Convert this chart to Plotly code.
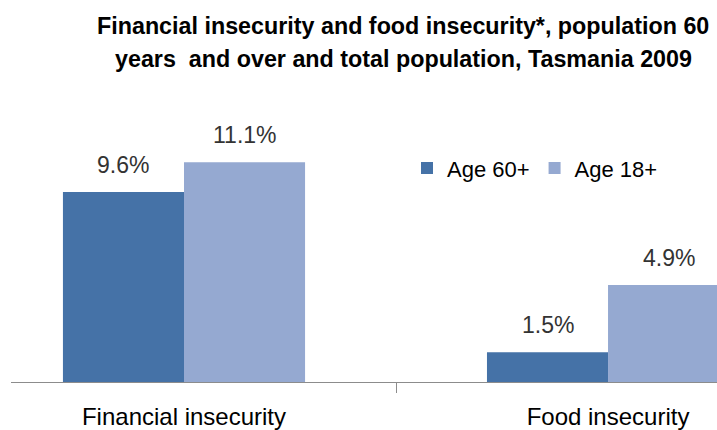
import plotly.graph_objects as go

categories = ["Financial insecurity", "Food insecurity"]
age60 = [9.6, 1.5]
age18 = [11.1, 4.9]
series_names = ["Age 60+", "Age 18+"]
title_lines = ["Financial insecurity and food insecurity*, population 60",
               "years  and over and total population, Tasmania 2009"]

C_DARK = "#4572A7"
C_LIGHT = "#95A9D1"
FONT = "Liberation Sans, Arial, sans-serif"

W, H = 717, 430
ML, MR, MT, MB = 11, 0, 90, H - 385
PW, PH = W - ML - MR, H - MT - MB
xr = [-0.408, 1.257]
yr = [0, PH / 20.0]
bargap = 0.429
px_per_cat = PW / (xr[1] - xr[0])
bar_off = (1 - bargap) / 4 * px_per_cat


def paper_x(page_x):
    return (page_x - ML) / PW


def paper_y(page_y):
    return (H - MB - page_y) / PH


fig = go.Figure()
fig.add_trace(go.Bar(x=categories, y=age60, name=series_names[0], marker_color=C_DARK, marker_line_width=0))
fig.add_trace(go.Bar(x=categories, y=age18, name=series_names[1], marker_color=C_LIGHT, marker_line_width=0))

ann = []
for series, sgn in ((age60, -1), (age18, 1)):
    for cat, v in zip(categories, series):
        ann.append(dict(x=cat, y=v, xref="x", yref="y", text=f"{v:.1f}%", showarrow=False,
                        xshift=sgn * bar_off, yanchor="bottom", yshift=12,
                        font=dict(family=FONT, size=23, color="#333333")))
for line, ypx in zip(title_lines, [25, 59]):
    ann.append(dict(x=paper_x(403), y=paper_y(ypx), xref="paper", yref="paper",
                    text=f"<b>{line}</b>", showarrow=False, xanchor="center", yanchor="middle",
                    font=dict(family=FONT, size=23.3, color="#000000")))

fig.update_layout(
    width=W, height=H,
    margin=dict(l=ML, r=MR, t=MT, b=MB, pad=0),
    paper_bgcolor="white", plot_bgcolor="white",
    barmode="group", bargap=bargap, bargroupgap=0,
    showlegend=True,
    legend=dict(orientation="h", x=paper_x(407), y=paper_y(169),
                xanchor="left", yanchor="middle", bgcolor="rgba(0,0,0,0)",
                font=dict(family=FONT, size=22, color="#000000"),
                traceorder="normal"),
    annotations=ann,
    xaxis=dict(type="category", range=xr, showline=True, linecolor="#8c8c8c", linewidth=1,
               ticks="outside", tickson="boundaries", ticklen=10, tickcolor="#8c8c8c",
               tickfont=dict(family=FONT, size=24, color="#000000"), showgrid=False, zeroline=False,
               ticklabelstandoff=13),
    yaxis=dict(range=yr, visible=False, showgrid=False, zeroline=False),
)
fig.write_html("out.html", config={"displayModeBar": False},
               post_script="document.body.style.margin='0';document.body.style.overflow='hidden';")
